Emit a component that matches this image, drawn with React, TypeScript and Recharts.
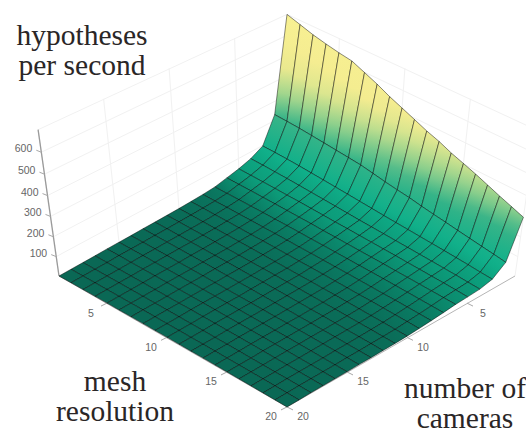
import React from 'react'
import { ScatterChart, Scatter, XAxis, YAxis } from 'recharts'

const WIDTH = 526
const HEIGHT = 434

const meshResolution = [1, 2, 3, 4, 5, 6, 7, 8, 9, 10, 11, 12, 13, 14, 15, 16, 17, 18, 19, 20]
const cameraCounts = [1, 2, 3, 4, 5, 6, 7, 8, 9, 10, 11, 12, 13, 14, 15, 16, 17, 18, 19, 20]

// one row per camera count, one column per mesh resolution
const hypothesesPerSecond = [
  [700, 680, 660, 645, 632, 622, 596, 570, 540, 515, 490, 465, 445, 420, 400, 380, 358, 336, 316, 296],
  [230, 228, 225, 220, 215, 210, 205, 200, 190, 180, 172, 165, 155, 147, 140, 132, 125, 118, 112, 105],
  [96, 96, 95, 93, 90, 87, 84, 81, 78, 75, 72, 70, 68, 66, 64, 62, 60, 58, 55, 53],
  [62, 62, 61, 60, 58, 56, 54, 52, 50, 48, 47, 46, 45, 44, 43, 42, 41, 40, 38, 37],
  [42, 42, 42, 42, 41, 41, 40, 39, 38, 38, 37, 37, 36, 36, 35, 35, 34, 34, 33, 32],
  [28, 28, 29, 29, 29, 29, 29, 29, 28, 28, 28, 28, 28, 28, 28, 28, 28, 28, 28, 28],
  [14, 15, 16, 17, 18, 18, 19, 19, 19, 20, 20, 20, 20, 21, 21, 21, 21, 21, 21, 21],
  [9, 9, 10, 10, 11, 11, 12, 12, 12, 13, 13, 13, 14, 14, 14, 14, 15, 15, 15, 15],
  [6, 6, 6, 7, 7, 7, 8, 8, 8, 8, 9, 9, 9, 9, 9, 10, 10, 10, 10, 10],
  [4, 4, 4, 4, 5, 5, 5, 5, 5, 5, 5, 6, 6, 6, 6, 6, 6, 6, 6, 6],
  [3, 3, 3, 3, 3, 3, 3, 3, 4, 4, 4, 4, 4, 4, 4, 4, 4, 4, 4, 4],
  [2, 2, 2, 2, 2, 2, 2, 2, 2, 3, 3, 3, 3, 3, 3, 3, 3, 3, 3, 3],
  [2, 2, 2, 2, 2, 2, 2, 2, 2, 2, 2, 2, 2, 2, 2, 2, 2, 2, 2, 2],
  [1, 1, 1, 1, 1, 1, 1, 1, 1, 1, 1, 1, 1, 2, 2, 2, 2, 2, 2, 2],
  [1, 1, 1, 1, 1, 1, 1, 1, 1, 1, 1, 1, 1, 1, 1, 1, 1, 1, 1, 1],
  [1, 1, 1, 1, 1, 1, 1, 1, 1, 1, 1, 1, 1, 1, 1, 1, 1, 1, 1, 1],
  [0, 0, 0, 0, 0, 0, 0, 0, 1, 1, 1, 1, 1, 1, 1, 1, 1, 1, 1, 1],
  [0, 0, 0, 0, 0, 0, 0, 0, 0, 0, 0, 0, 0, 0, 0, 0, 0, 1, 1, 1],
  [0, 0, 0, 0, 0, 0, 0, 0, 0, 0, 0, 0, 0, 0, 0, 0, 0, 0, 0, 0],
  [0, 0, 0, 0, 0, 0, 0, 0, 0, 0, 0, 0, 0, 0, 0, 0, 0, 0, 0, 0],
]

const meshTicks = [5, 10, 15, 20]
const cameraTicks = [5, 10, 15, 20]
const hypothesisTicks = [100, 200, 300, 400, 500, 600]
const wallLevels = [100, 200, 300, 400, 500, 600, 700]
const Z_TOP = 700

const titles = [
  ['hypotheses', 'per second'],
  ['mesh', 'resolution'],
  ['number of', 'cameras'],
]

// colormap, value -> rgb
const colorStops: [number, number[]][] = [
  [0, [10, 104, 85]],
  [15, [10, 122, 98]],
  [40, [12, 156, 122]],
  [90, [16, 176, 138]],
  [230, [56, 180, 136]],
  [300, [130, 204, 140]],
  [400, [205, 226, 142]],
  [480, [244, 236, 144]],
  [700, [247, 240, 146]],
]

function colorOf(z: number) {
  for (let i = 1; i < colorStops.length; i++) {
    if (z <= colorStops[i][0]) {
      const [z0, c0] = colorStops[i - 1]
      const [z1, c1] = colorStops[i]
      const t = (z - z0) / (z1 - z0)
      return `rgb(${c0.map((v, k) => Math.round(v + (c1[k] - v) * t)).join(',')})`
    }
  }
  return `rgb(${colorStops[colorStops.length - 1][1].join(',')})`
}

// the 3D view: mesh, cameras, value -> chart coordinates
function project(mesh: number, cams: number, z: number) {
  const u = (mesh - 1) / 19
  const v = (cams - 1) / 19
  const side = u - v
  const depth = u + v - 1
  const lift = z / Z_TOP
  const w = 1 - 0.084 * lift
  return {
    px: 287 + (228 * side) / w,
    py: 276 + (128.2 * depth) / (1 - 0.021 * depth) - (134 * lift * (1 + 0.07 * depth)) / w,
  }
}

// surface cells, back to front
const cells: any[] = []
cameraCounts.slice(0, -1).forEach((cams, r) => {
  meshResolution.slice(0, -1).forEach((mesh, c) => {
    const z00 = hypothesesPerSecond[r][c]
    const z01 = hypothesesPerSecond[r][c + 1]
    const z10 = hypothesesPerSecond[r + 1][c]
    const z11 = hypothesesPerSecond[r + 1][c + 1]
    cells.push({
      id: `cell-${r}-${c}`,
      ...project(mesh, cams, z00),
      corners: [
        project(mesh, cams, z00),
        project(mesh + 1, cams, z01),
        project(mesh + 1, cams + 1, z11),
        project(mesh, cams + 1, z10),
      ],
      zBack: (z00 + z01) / 2,
      zFront: (z10 + z11) / 2,
    })
  })
})

function segment(a: any, b: any, stroke: string, width: number) {
  return { ...a, end: b, stroke, width }
}

const wallLines: any[] = []
wallLevels.forEach((level) => {
  wallLines.push(segment(project(1, 20, level), project(1, 1, level), '#f1f1f1', 1))
  wallLines.push(segment(project(1, 1, level), project(20, 1, level), '#f1f1f1', 1))
})
cameraTicks.forEach((cams) => {
  wallLines.push(segment(project(1, cams, 0), project(1, cams, Z_TOP), '#f1f1f1', 1))
})
meshTicks.forEach((mesh) => {
  wallLines.push(segment(project(mesh, 1, 0), project(mesh, 1, Z_TOP), '#f1f1f1', 1))
})
wallLines.push(segment(project(1, 20, 0), project(1, 20, Z_TOP), '#9a9a9a', 1.3))
wallLines.push(segment(project(1, 20, 0), project(20, 20, 0), '#b5b5b5', 1))
wallLines.push(segment(project(20, 20, 0), project(20, 1, 0), '#b5b5b5', 1))

const tickLines: any[] = []
const tickLabels: any[] = []

function addTick(point: any, tx: number, ty: number, lx: number, ly: number, text: number, anchor: string) {
  const end = { px: point.px + tx, py: point.py + ty }
  tickLines.push(segment(point, end, '#a8a8a8', 1))
  tickLabels.push({ px: point.px + lx, py: point.py + ly, text, anchor })
}
hypothesisTicks.forEach((t) => addTick(project(1, 20, t), -5, -2, -9, -4, t, 'end'))
meshTicks.forEach((t) => addTick(project(t, 20, 0), -6, 3, -16, 9.5, t, 'middle'))
cameraTicks.forEach((t) => addTick(project(20, t, 0), 6, 3, 16, 9.5, t, 'middle'))

const titlePoints = [
  { px: 82, py: 45, lines: titles[0] },
  { px: 115, py: 391, lines: titles[1] },
  { px: 465, py: 397.5, lines: titles[2] },
]

function SegmentShape(props: any) {
  const { cx, cy, payload } = props
  const x2 = cx + payload.end.px - payload.px
  const y2 = cy + payload.end.py - payload.py
  return <line x1={cx} y1={cy} x2={x2} y2={y2} stroke={payload.stroke} strokeWidth={payload.width} />
}

function CellShape(props: any) {
  const { cx, cy, payload } = props
  const pts = payload.corners.map((p: any) => ({ x: cx + p.px - payload.px, y: cy + p.py - payload.py }))
  const backX = (pts[0].x + pts[1].x) / 2
  const backY = (pts[0].y + pts[1].y) / 2
  const frontX = (pts[2].x + pts[3].x) / 2
  const frontY = (pts[2].y + pts[3].y) / 2
  const stops = [0, 0.25, 0.5, 0.75, 1]
  return (
    <g>
      <defs>
        <linearGradient id={payload.id} gradientUnits="userSpaceOnUse" x1={backX} y1={backY} x2={frontX} y2={frontY}>
          {stops.map((s) => (
            <stop key={s} offset={s} stopColor={colorOf(payload.zBack + (payload.zFront - payload.zBack) * s)} />
          ))}
        </linearGradient>
      </defs>
      <polygon
        points={pts.map((p: any) => `${p.x},${p.y}`).join(' ')}
        fill={`url(#${payload.id})`}
        stroke="#000"
        strokeOpacity={0.5}
        strokeWidth={0.9}
        strokeLinejoin="round"
      />
    </g>
  )
}

function TickLabel(props: any) {
  const { cx, cy, payload } = props
  return (
    <text
      x={cx}
      y={cy}
      textAnchor={payload.anchor}
      dominantBaseline="central"
      style={{ fontFamily: '"Liberation Sans", Arial, sans-serif', fontSize: 10.5, fill: '#666' }}
    >
      {payload.text}
    </text>
  )
}

function TitleLabel(props: any) {
  const { cx, cy, payload } = props
  return (
    <text
      x={cx}
      y={cy}
      textAnchor="middle"
      style={{ fontFamily: '"Liberation Serif", "Times New Roman", serif', fontSize: 29.5, fill: '#2a2626' }}
    >
      {payload.lines.map((line: string, i: number) => (
        <tspan key={line} x={cx} dy={i === 0 ? 0 : 30}>
          {line}
        </tspan>
      ))}
    </text>
  )
}

export default function App() {
  return (
    <div style={{ position: 'absolute', left: 0, top: 0, width: WIDTH, height: HEIGHT, background: '#fff' }}>
      <ScatterChart width={WIDTH} height={HEIGHT} margin={{ top: 0, right: 0, bottom: 0, left: 0 }}>
        <XAxis type="number" dataKey="px" domain={[0, WIDTH]} hide />
        <YAxis type="number" dataKey="py" domain={[0, HEIGHT]} reversed hide />
        <Scatter data={wallLines} shape={SegmentShape} isAnimationActive={false} />
        <Scatter data={tickLines} shape={SegmentShape} isAnimationActive={false} />
        <Scatter data={cells} shape={CellShape} isAnimationActive={false} />
        <Scatter data={tickLabels} shape={TickLabel} isAnimationActive={false} />
        <Scatter data={titlePoints} shape={TitleLabel} isAnimationActive={false} />
      </ScatterChart>
    </div>
  )
}
